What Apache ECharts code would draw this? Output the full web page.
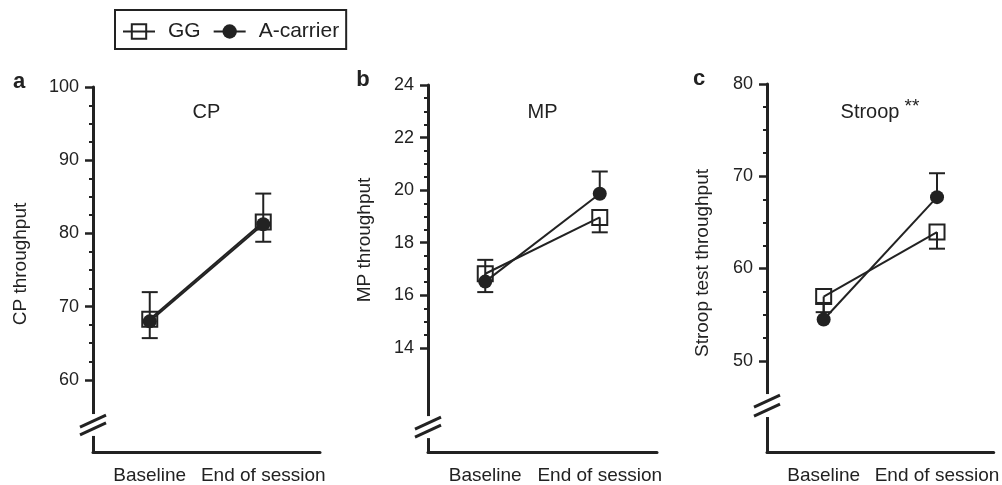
<!DOCTYPE html>
<html>
<head>
<meta charset="utf-8">
<script src="https://cdn.jsdelivr.net/npm/echarts@6.0.0/dist/echarts.min.js"></script>
<style>
  html, body { margin: 0; padding: 0; background: #fff; }
  #chart { width: 1002px; height: 485px; }
</style>
</head>
<body>
<div id="chart"></div>
<script>
var categories = ['Baseline', 'End of session'];

// a: CP  (GG error bars go down, A-carrier error bars go up)
var cpGG = [68.2, 81.5];
var cpGGErr = [65.6, 78.8];
var cpA = [67.9, 81.2];
var cpAErr = [71.9, 85.4];

// b: MP
var mpGG = [16.8, 18.95];
var mpGGErr = [16.1, 18.38];
var mpA = [16.5, 19.85];
var mpAErr = [17.33, 20.7];

// c: Stroop
var stGG = [56.9, 63.9];
var stGGErr = [55.2, 62.1];
var stA = [54.4, 67.7];
var stAErr = [56.2, 70.3];

var ink = '#222';
var font = 'Liberation Sans, Arial, sans-serif';

var panels = [
  { letter: 'a', title: 'CP', yName: 'CP throughput', gg: cpGG, ggErr: cpGGErr, ac: cpA, acErr: cpAErr,
    min: 50, low: 60, max: 100, interval: 10, left: 93, width: 227, top: 87,
    brk: [55.2, 52.2], nameX: 21, nameY: 264, letterX: 19 },
  { letter: 'b', title: 'MP', yName: 'MP throughput', gg: mpGG, ggErr: mpGGErr, ac: mpA, acErr: mpAErr,
    min: 10, low: 14, max: 24, interval: 2, left: 428, width: 229, top: 85,
    brk: [11.37, 10.53], nameX: 365, nameY: 240, letterX: 363 },
  { letter: 'c', title: 'Stroop', stars: true, yName: 'Stroop test throughput', gg: stGG, ggErr: stGGErr, ac: stA, acErr: stAErr,
    min: 40, low: 50, max: 80, interval: 10, left: 767, width: 228, top: 84,
    brk: [46.3, 43.8], nameX: 703, nameY: 263, letterX: 699 }
];

var gridBottom = 453;

function errorBar(params, api) {
  var p0 = api.coord([api.value(0), api.value(1)]);
  var p1 = api.coord([api.value(0), api.value(2)]);
  var half = 8;
  return {
    type: 'group',
    children: [
      { type: 'line', shape: { x1: p0[0], y1: p0[1], x2: p1[0], y2: p1[1] }, style: { stroke: ink, lineWidth: 2 } },
      { type: 'line', shape: { x1: p1[0] - half, y1: p1[1], x2: p1[0] + half, y2: p1[1] }, style: { stroke: ink, lineWidth: 2 } }
    ]
  };
}

var grid = [], xAxis = [], yAxis = [], series = [], graphic = [];

panels.forEach(function (p, i) {
  var h = gridBottom - p.top;
  var d = 2 * i, s = 2 * i + 1;
  // data grid
  grid.push({ left: p.left, top: p.top, width: p.width, height: h });
  // scale grid holding the tick labels (only from p.low upwards)
  grid.push({ left: p.left, top: p.top, width: p.width, height: h * (p.max - p.low) / (p.max - p.min) });

  xAxis.push({
    type: 'category', gridIndex: d, data: categories, boundaryGap: true,
    axisLine: { lineStyle: { color: ink, width: 3 } },
    axisTick: { alignWithLabel: true, length: 7, lineStyle: { color: ink, width: 2.5 } },
    axisLabel: { color: ink, fontSize: 19, fontFamily: font, margin: 14, interval: 0, hideOverlap: false },
    splitLine: { show: false }
  });
  xAxis.push({ type: 'category', gridIndex: s, data: categories, show: false });

  yAxis.push({
    type: 'value', gridIndex: d, min: p.min, max: p.max,
    axisLine: { show: true, lineStyle: { color: ink, width: 3 } },
    axisTick: { show: false }, axisLabel: { show: false }, splitLine: { show: false }
  });
  yAxis.push({
    type: 'value', gridIndex: s, min: p.low, max: p.max, interval: p.interval,
    axisLine: { show: false },
    axisTick: { show: true, length: 8, lineStyle: { color: ink, width: 2.5 } },
    minorTick: { show: true, splitNumber: 4, length: 4, lineStyle: { color: ink, width: 2 } },
    axisLabel: { color: ink, fontSize: 18, fontFamily: font, margin: 14 },
    splitLine: { show: false }
  });

  series.push({
    type: 'custom', name: 'GG err', xAxisIndex: d, yAxisIndex: d, renderItem: errorBar,
    encode: { x: 0, y: [1, 2] }, z: 1,
    data: p.gg.map(function (v, k) { return [k, v, p.ggErr[k]]; })
  });
  series.push({
    type: 'custom', name: 'A err', xAxisIndex: d, yAxisIndex: d, renderItem: errorBar,
    encode: { x: 0, y: [1, 2] }, z: 1,
    data: p.ac.map(function (v, k) { return [k, v, p.acErr[k]]; })
  });
  series.push({
    type: 'line', name: 'GG', xAxisIndex: d, yAxisIndex: d, data: p.gg, z: 2,
    symbol: 'rect', symbolSize: 15,
    lineStyle: { color: ink, width: 2 },
    itemStyle: { color: 'rgba(255,255,255,0)', borderColor: ink, borderWidth: 2 },
    emphasis: { disabled: true }
  });
  series.push({
    type: 'line', name: 'A-carrier', xAxisIndex: d, yAxisIndex: d, data: p.ac, z: 3,
    symbol: 'circle', symbolSize: 14,
    lineStyle: { color: ink, width: 2 },
    itemStyle: { color: ink, borderColor: ink, borderWidth: 0 },
    emphasis: { disabled: true }
  });

  graphic.push({
    type: 'text', x: p.letterX, y: p.top - 5,
    style: { text: p.letter, font: 'bold 22px ' + font, fill: ink, align: 'center', verticalAlign: 'middle' }
  });
  graphic.push({
    type: 'text', x: p.left + p.width / 2 - (p.stars ? 11 : 0), y: 112,
    style: { text: p.title, font: '20px ' + font, fill: ink, align: 'center', verticalAlign: 'middle' }
  });
  if (p.stars) {
    graphic.push({
      type: 'text', x: p.left + p.width / 2 + 31, y: 107,
      style: { text: '**', font: '19px ' + font, fill: ink, align: 'center', verticalAlign: 'middle' }
    });
  }
  graphic.push({
    type: 'text', x: p.nameX, y: p.nameY, rotation: Math.PI / 2,
    style: { text: p.yName, font: '19px ' + font, fill: ink, align: 'center', verticalAlign: 'middle' }
  });
});

var chart = echarts.init(document.getElementById('chart'));
chart.setOption({
  animation: false,
  legend: {
    data: ['GG', 'A-carrier'], left: 115, top: 10,
    borderColor: ink, borderWidth: 2, borderRadius: 0,
    padding: [11, 7, 7, 7], itemGap: 12, itemWidth: 32, itemHeight: 18,
    textStyle: { color: ink, fontSize: 21, fontFamily: font, padding: [0, 0, 0, 8] },
    selectedMode: false
  },
  grid: grid, xAxis: xAxis, yAxis: yAxis, series: series, graphic: graphic
});

// axis break marks
var breaks = [];
panels.forEach(function (p, i) {
  var y1 = chart.convertToPixel({ yAxisIndex: 2 * i }, p.brk[0]);
  var y2 = chart.convertToPixel({ yAxisIndex: 2 * i }, p.brk[1]);
  var x = p.left;
  breaks.push({ type: 'rect', shape: { x: x - 4, y: y1, width: 8, height: y2 - y1 }, style: { fill: '#fff' }, z: 100 });
  [y1 + 7, y2 - 7].forEach(function (yc) {
    breaks.push({ type: 'line', shape: { x1: x - 13, y1: yc + 6, x2: x + 13, y2: yc - 6 }, style: { stroke: ink, lineWidth: 3 }, z: 101 });
  });
});
chart.setOption({ graphic: graphic.concat(breaks) });
</script>
</body>
</html>
